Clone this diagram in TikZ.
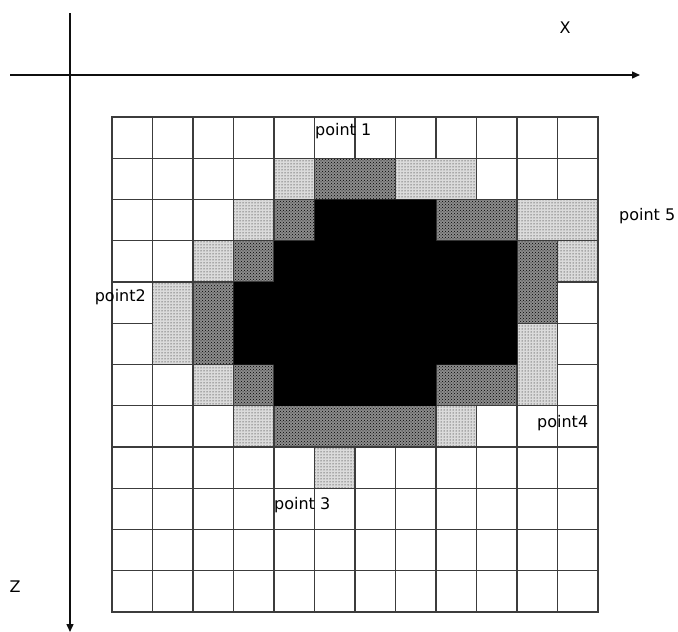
\documentclass[tikz,border=0pt]{standalone}
\usepackage{fontspec}
\setmainfont{DejaVu Sans}
\usepackage{tikz}
\usetikzlibrary{arrows.meta,patterns}
\definecolor{gridline}{RGB}{60,60,60}
\definecolor{axline}{RGB}{15,15,15}
\tikzset{
  zgrid/.style={gridline,line width=1.1pt},
  zlight/.style={draw=gridline,line width=1.1pt,preaction={fill=black!14},pattern=dots},
  zmid/.style={draw=gridline,line width=1.1pt,preaction={fill=black!45},pattern=crosshatch dots},
  zcore/.style={fill=black},
  zaxis/.style={axline,line width=1.4pt,-{Triangle[length=8pt,width=7pt]}},
  zlabel/.style={font=\fontsize{16}{19}\selectfont,inner sep=0pt},
}
\begin{document}
\begin{tikzpicture}[x=1pt,y=-1pt]
  \useasboundingbox (0,0) rectangle (678,632);
  % cells of the slice, one unit per cell
  \begin{scope}[xshift=112pt,yshift=-117pt,x=40.5pt,y=-41.25pt]
    \foreach \i in {0,...,12} {
      \draw[zgrid] (\i,0) -- (\i,12);
      \draw[zgrid] (0,\i) -- (12,\i);
    }
    \draw[zgrid,line width=1.4pt] (0,0) rectangle (12,12);
    % outer ring
    \foreach \a/\b/\c/\d in {4/1/5/2, 7/1/9/2, 3/2/4/3, 10/2/12/3, 2/3/3/4,
                             11/3/12/4, 1/4/2/6, 10/5/11/7, 2/6/3/7, 3/7/4/8,
                             8/7/9/8, 5/8/6/9}
      \draw[zlight] (\a,\b) rectangle (\c,\d);
    % inner ring
    \foreach \a/\b/\c/\d in {5/1/7/2, 4/2/5/3, 8/2/10/3, 3/3/4/4, 10/3/11/5,
                             2/4/3/6, 3/6/4/7, 8/6/10/7, 4/7/8/8}
      \draw[zmid] (\a,\b) rectangle (\c,\d);
    % core
    \fill[zcore] (5,2) -- (8,2) -- (8,3) -- (10,3) -- (10,6) -- (8,6) -- (8,7)
      -- (4,7) -- (4,6) -- (3,6) -- (3,4) -- (4,4) -- (4,3) -- (5,3) -- cycle;
  \end{scope}
  % axes
  \coordinate (xfrom) at (10,75);
  \coordinate (xto) at (640,75);
  \coordinate (zfrom) at (70,13);
  \coordinate (zto) at (70,632);
  \draw[zaxis] (xfrom) -- (xto);
  \draw[zaxis] (zfrom) -- (zto);
  \node[zlabel] (xlab) at (565,28) {X};
  \node[zlabel] (zlab) at (15,587) {Z};
  \node[zlabel,anchor=west] (p1) at (315,131) {point 1};
  \node[zlabel,anchor=west] (p5) at (619,216) {point 5};
  \node[zlabel,anchor=east] (p2) at (146,297) {point2};
  \node[zlabel,anchor=west] (p4) at (537,423) {point4};
  \node[zlabel,anchor=west] (p3) at (274,505) {point 3};
\end{tikzpicture}
\end{document}
